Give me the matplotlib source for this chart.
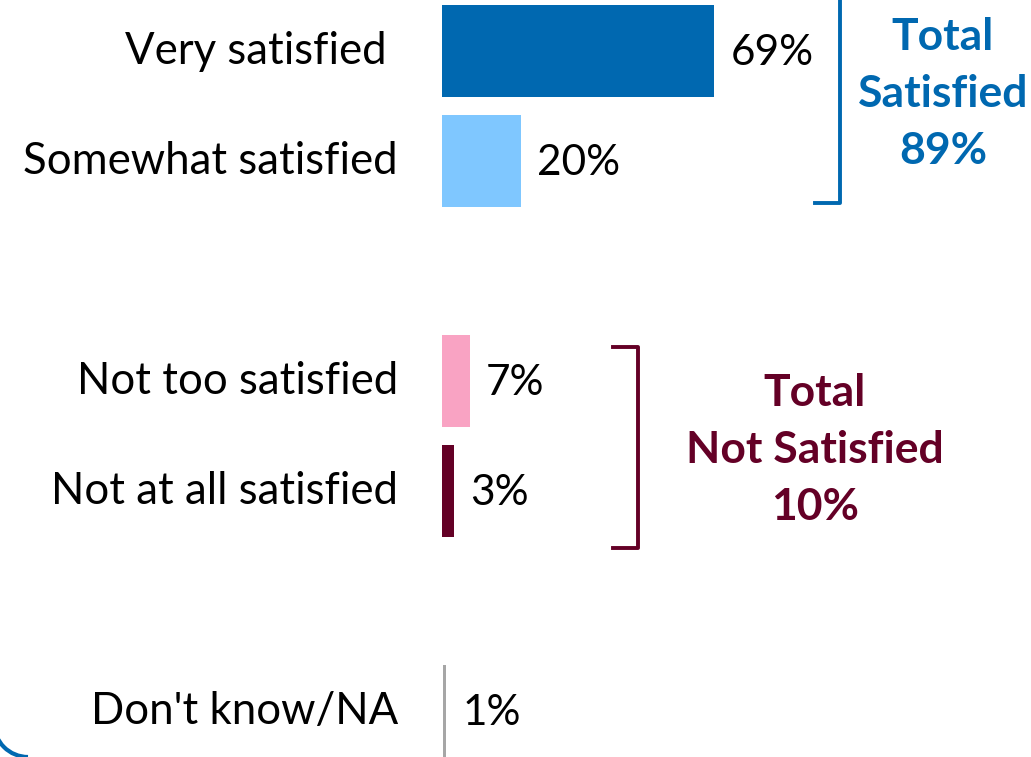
import matplotlib
matplotlib.use("Agg")
import matplotlib.pyplot as plt
from matplotlib.patches import Arc

plt.rcParams['font.family'] = ['Lato', 'DejaVu Sans']

# data
categories = ["Very satisfied ", "Somewhat satisfied", "Not too satisfied",
              "Not at all satisfied", "Don't know/NA"]
values = [69, 20, 7, 3, 1]
slots = [0, 1, 3, 4, 6]
colors = ["#0068B0", "#7FC7FF", "#F9A3C3", "#640026", "#A6A6A6"]

sat_label = ["Total", "Satisfied", "89%"]
notsat_label = ["Total", "Not Satisfied", "10%"]

W, H = 1031, 757
fig = plt.figure(figsize=(W / 100, H / 100), dpi=100)

px_per_pct = 3.94
x0 = 442
ax = fig.add_axes([x0 / W, 0, (W - x0) / W, 1])
ax.set_xlim(0, (W - x0) / px_per_pct)
step = 110
top = 51
ax.set_ylim((H - top) / step, -top / step)
ax.axis("off")

for cat, v, s, c in zip(categories, values, slots, colors):
    if v <= 1:
        # tiny bar shows as a thin grey line
        ax.barh(s, 0.8, height=0.84, color=c, left=0.2)
    else:
        ax.barh(s, v, height=0.84, color=c)
    ax.text(v + 4.2, s + 0.02, f"{v}%", va="center", ha="left", fontsize=30.5, color="black")
    ax.text(-11.2, s, cat, va="center", ha="right", fontsize=31.5, color="black",
            clip_on=False)

# brackets
blue = "#0068B0"
maroon = "#640026"
bx = (840 - x0) / px_per_pct
ax.plot([bx - 6.3, bx, bx], [1.38, 1.38, -0.6], color=blue, lw=2.8, clip_on=False,
        solid_joinstyle="round")
mx = (638 - x0) / px_per_pct
ax.plot([mx - 6.3, mx, mx, mx - 6.3], [2.69, 2.69, 4.52, 4.52], color=maroon, lw=2.8,
        solid_joinstyle="round")

for i, t in enumerate(sat_label):
    ax.text((943 - x0) / px_per_pct, (37 - top) / step + i * 57 / step, t,
            ha="center", va="center", fontsize=32, fontweight="bold", color=blue)
for i, t in enumerate(notsat_label):
    ax.text((815 - x0) / px_per_pct, (393 - top) / step + i * 57 / step, t,
            ha="center", va="center", fontsize=32, fontweight="bold", color=maroon)

# rounded frame corner bottom-left
arc = Arc((28, 34), 68, 68, theta1=180, theta2=270, transform=None,
          color=blue, lw=3)
fig.patches.append(arc)

fig.savefig("out.png", dpi=100)
